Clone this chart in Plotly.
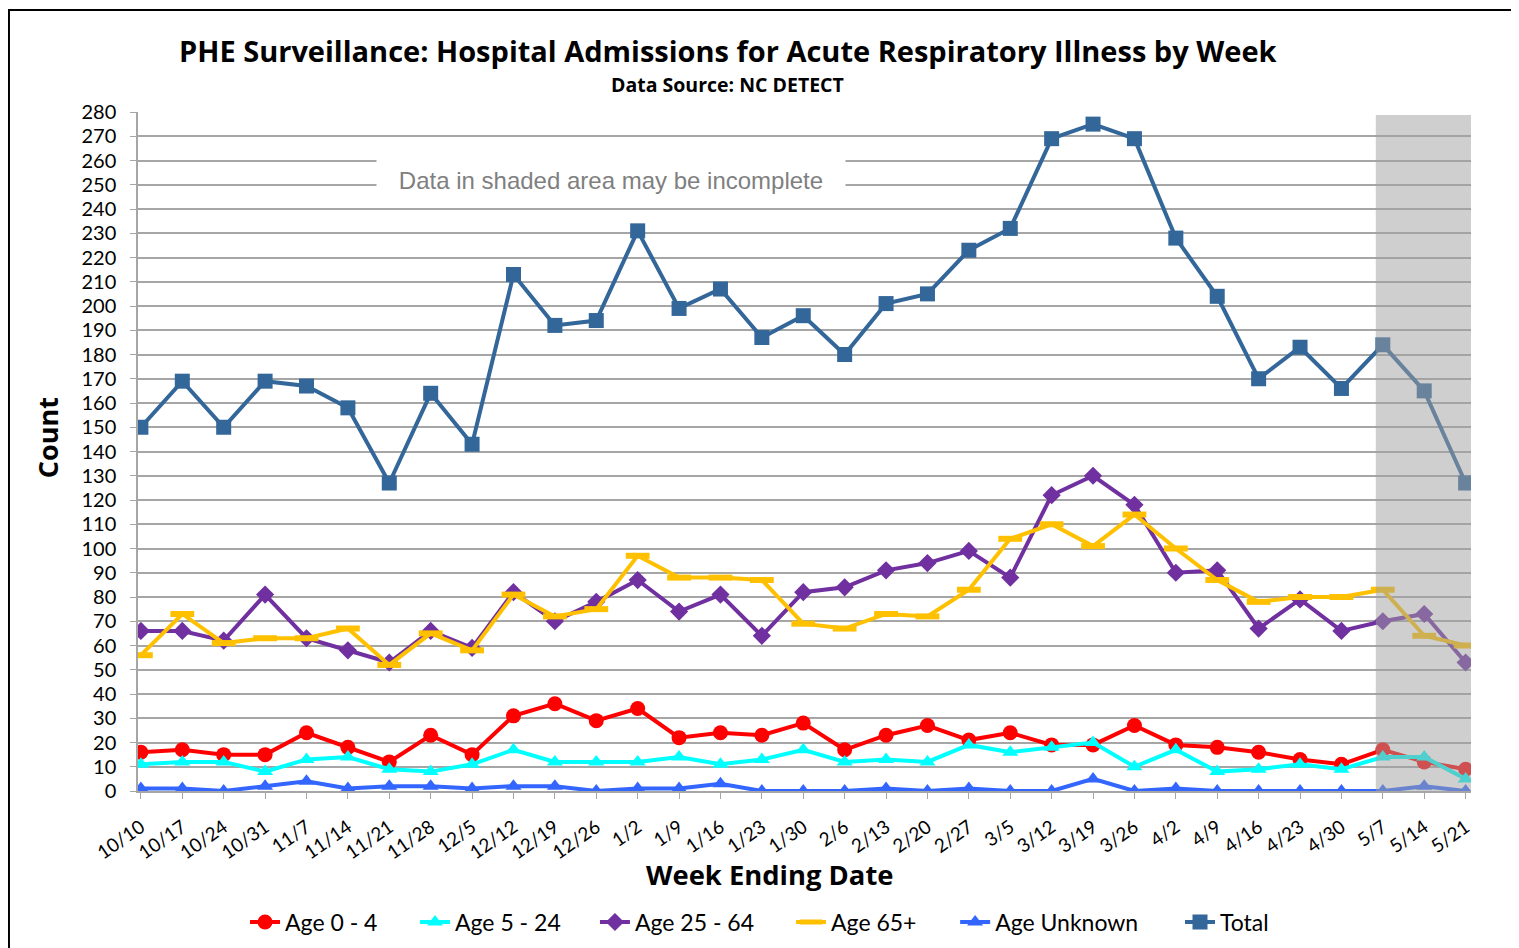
import plotly.graph_objects as go

# settimane (week ending date)
weeks = ["10/10", "10/17", "10/24", "10/31", "11/7", "11/14", "11/21", "11/28", "12/5",
         "12/12", "12/19", "12/26", "1/2", "1/9", "1/16", "1/23", "1/30", "2/6", "2/13",
         "2/20", "2/27", "3/5", "3/12", "3/19", "3/26", "4/2", "4/9", "4/16", "4/23",
         "4/30", "5/7", "5/14", "5/21"]

age_0_4 = [16, 17, 15, 15, 24, 18, 12, 23, 15, 31, 36, 29, 34, 22, 24, 23, 28, 17, 23,
           27, 21, 24, 19, 19, 27, 19, 18, 16, 13, 11, 17, 12, 9]
age_5_24 = [11, 12, 12, 8, 13, 14, 9, 8, 11, 17, 12, 12, 12, 14, 11, 13, 17, 12, 13,
            12, 19, 16, 18, 20, 10, 17, 8, 9, 11, 9, 14, 14, 5]
age_25_64 = [66, 66, 62, 81, 63, 58, 53, 66, 59, 82, 70, 78, 87, 74, 81, 64, 82, 84, 91,
             94, 99, 88, 122, 130, 118, 90, 91, 67, 79, 66, 70, 73, 53]
age_65 = [56, 73, 61, 63, 63, 67, 52, 65, 58, 81, 72, 75, 97, 88, 88, 87, 69, 67, 73,
          72, 83, 104, 110, 101, 114, 100, 87, 78, 80, 80, 83, 64, 60]
age_unknown = [1, 1, 0, 2, 4, 1, 2, 2, 1, 2, 2, 0, 1, 1, 3, 0, 0, 0, 1,
               0, 1, 0, 0, 5, 0, 1, 0, 0, 0, 0, 0, 2, 0]
total = [150, 169, 150, 169, 167, 158, 127, 164, 143, 213, 192, 194, 231, 199, 207, 187,
         196, 180, 201, 205, 223, 232, 269, 275, 269, 228, 204, 170, 183, 166, 184, 165, 127]

FONT = "Lato, Noto Sans, sans-serif"
FONT_B = "Open Sans, Noto Sans, sans-serif"

serie = [
    ("Age 0 - 4", age_0_4, "#ff0000", "circle", 15),
    ("Age 5 - 24", age_5_24, "#00ffff", "triangle-up", 14),
    ("Age 25 - 64", age_25_64, "#7030a0", "diamond", 14),
    ("Age 65+", age_65, "#ffc000", "line-ew", 17),
    ("Age Unknown", age_unknown, "#3366ff", "triangle-up", 14),
    ("Total", total, "#336699", "square", 15),
]

# posizione orizzontale (frazione dell'area del grafico) di ogni voce di legenda
legend_x = [0.0803, 0.2078, 0.3428, 0.4899, 0.613, 0.7817]

fig = go.Figure()
for i, (nome, valori, colore, simbolo, dim) in enumerate(serie):
    if simbolo == "line-ew":
        marker = dict(symbol=simbolo, size=dim, line=dict(color=colore, width=6))
    else:
        marker = dict(symbol=simbolo, size=dim, color=colore, line=dict(width=0))
    leg = "legend" if i == 0 else "legend%d" % (i + 1)
    fig.add_trace(go.Scatter(x=weeks, y=valori, name=nome, mode="lines+markers",
                             line=dict(color=colore, width=4), marker=marker, legend=leg))
    fig.update_layout({leg: dict(x=legend_x[i], xanchor="left", y=-0.193, yanchor="middle",
                                 font=dict(family=FONT, size=23), bgcolor="rgba(0,0,0,0)",
                                 itemwidth=30)})

# area grigia (dati incompleti)
fig.add_shape(type="rect", xref="x", yref="y", x0=29.83, x1=32.13, y0=0, y1=278.8,
              fillcolor="rgba(160,160,160,0.5)", line=dict(width=0), layer="above")

# bordo esterno
fig.add_shape(type="rect", xref="paper", yref="paper", x0=-0.0968, x1=1.06, y0=-0.3, y1=1.1502,
              line=dict(color="black", width=2), fillcolor="rgba(0,0,0,0)")

fig.add_annotation(text="Data in shaded area may be incomplete", xref="paper", yref="y",
                   x=0.3548, y=252, showarrow=False, bgcolor="white", width=466, height=40,
                   font=dict(family="Liberation Sans, Arial", size=24, color="#7f7f7f"))

# titoli
fig.add_annotation(text="<b>PHE Surveillance: Hospital Admissions for Acute Respiratory Illness by Week</b>",
                   xref="paper", yref="paper", x=0.4426, y=1.0913, showarrow=False,
                   xanchor="center", yanchor="middle",
                   font=dict(family=FONT_B, size=29, color="black"))
fig.add_annotation(text="<b>Data Source: NC DETECT</b>", xref="paper", yref="paper",
                   x=0.4422, y=1.0398, showarrow=False, xanchor="center", yanchor="middle",
                   font=dict(family=FONT_B, size=19.5, color="black"))
fig.add_annotation(text="<b>Count</b>", xref="paper", yref="paper", x=-0.0683, y=0.521,
                   textangle=-90, showarrow=False, xanchor="center", yanchor="middle",
                   font=dict(family=FONT_B, size=27, color="black"))
fig.add_annotation(text="<b>Week Ending Date</b>", xref="paper", yref="paper", x=0.474, y=-0.1237,
                   showarrow=False, xanchor="center", yanchor="middle",
                   font=dict(family=FONT_B, size=27.4, color="black"))

# la pagina html ha un margine di 8px: la figura viene ridotta di conseguenza
fig.update_layout(
    width=1511, height=940,
    margin=dict(l=130, r=48, t=104, b=157, autoexpand=False),
    plot_bgcolor="white", paper_bgcolor="white",
    font=dict(family=FONT, color="black"),
    showlegend=True,
)
fig.update_xaxes(type="category", range=[-0.07, 32.13], tickangle=-35,
                 tickfont=dict(family=FONT, size=19), showgrid=False, ticklabelstandoff=10,
                 showline=True, linecolor="#a6a6a6", linewidth=1.5,
                 ticks="outside", ticklen=6, tickcolor="#a6a6a6")
fig.update_yaxes(range=[0, 280], dtick=10, tickfont=dict(family=FONT, size=20),
                 showgrid=True, gridcolor="#a6a6a6", gridwidth=2, zeroline=False,
                 showline=True, linecolor="#a6a6a6", linewidth=1.5, ticklabelstandoff=10,
                 ticks="outside", ticklen=6, tickcolor="#a6a6a6")

fig.write_html("out.html")
